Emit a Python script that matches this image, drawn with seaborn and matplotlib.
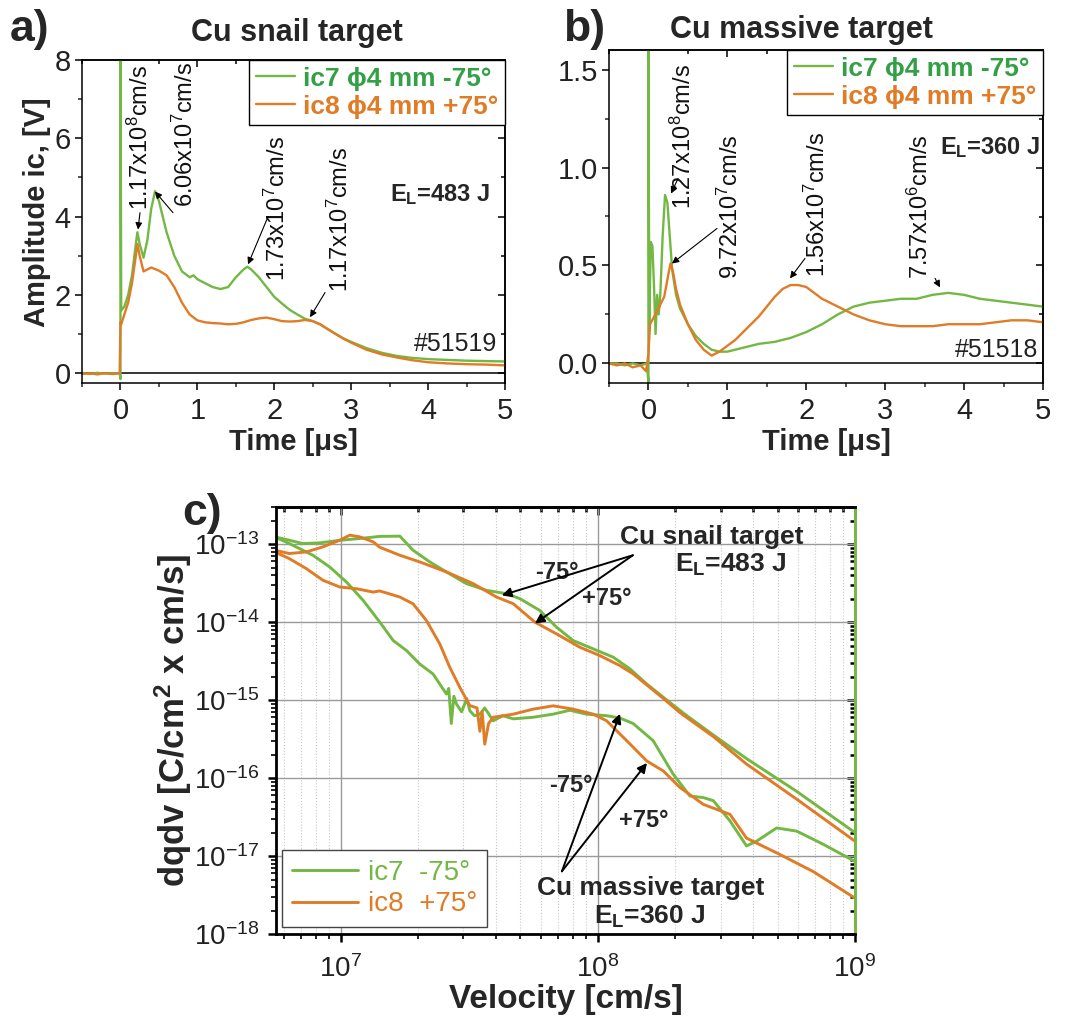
import numpy as np
import pandas as pd
import matplotlib
matplotlib.use("Agg")
import matplotlib.pyplot as plt
import seaborn as sns
from matplotlib.ticker import MultipleLocator, LogLocator, NullFormatter, FormatStrFormatter

# ---------------- data ----------------
# a) Cu snail target, shot #51519 : ion collector signals vs time [us]
a_t_ic7 = [-0.5, -0.4, -0.3, -0.2, -0.1, -0.01, 0.0, 0.0, 0.01, 0.05, 0.1, 0.15, 0.2, 0.22,
           0.25, 0.3, 0.35, 0.4, 0.45, 0.5, 0.55, 0.6, 0.7, 0.8, 0.9, 0.95, 1.0, 1.1, 1.2,
           1.3, 1.4, 1.5, 1.6, 1.65, 1.7, 1.8, 1.9, 2.0, 2.1, 2.2, 2.3, 2.4, 2.5, 2.6, 2.7,
           2.8, 2.9, 3.0, 3.2, 3.4, 3.6, 3.8, 4.0, 4.25, 4.5, 4.75, 5.0]
a_v_ic7 = [0.0, -0.02, 0.01, -0.01, 0.0, 0.0, -0.15, 9.0, 1.6, 1.7, 2.0, 2.5, 3.3, 3.6,
           3.3, 2.95, 3.4, 4.2, 4.65, 4.4, 4.0, 3.6, 3.0, 2.6, 2.45, 2.5, 2.4, 2.3, 2.2,
           2.15, 2.2, 2.45, 2.65, 2.72, 2.65, 2.45, 2.2, 1.95, 1.78, 1.62, 1.5, 1.39, 1.33,
           1.24, 1.12, 1.0, 0.89, 0.8, 0.64, 0.52, 0.44, 0.39, 0.36, 0.34, 0.32, 0.31, 0.3]
a_t_ic8 = [-0.5, -0.4, -0.3, -0.2, -0.1, -0.01, 0.0, 0.01, 0.05, 0.1, 0.15, 0.2, 0.22, 0.25,
           0.3, 0.35, 0.4, 0.5, 0.6, 0.7, 0.8, 0.9, 1.0, 1.1, 1.2, 1.3, 1.4, 1.5, 1.6, 1.7,
           1.8, 1.9, 2.0, 2.1, 2.2, 2.3, 2.4, 2.5, 2.6, 2.7, 2.8, 2.9, 3.0, 3.2, 3.4, 3.6,
           3.8, 4.0, 4.25, 4.5, 4.75, 5.0]
a_v_ic8 = [-0.02, 0.0, -0.03, 0.0, -0.02, 0.0, 1.3, 1.25, 1.5, 1.8, 2.3, 3.0, 3.3, 3.0,
           2.6, 2.65, 2.7, 2.62, 2.5, 2.2, 1.8, 1.5, 1.35, 1.3, 1.28, 1.27, 1.25, 1.26, 1.3,
           1.36, 1.4, 1.42, 1.38, 1.33, 1.32, 1.33, 1.36, 1.33, 1.25, 1.12, 1.0, 0.88, 0.78,
           0.6, 0.48, 0.4, 0.33, 0.28, 0.25, 0.23, 0.22, 0.2]

# b) Cu massive target, shot #51518
b_t_ic7 = [-0.5, -0.4, -0.3, -0.2, -0.1, -0.02, 0.0, 0.0, 0.01, 0.03, 0.05, 0.07, 0.09, 0.11,
           0.13, 0.15, 0.18, 0.21, 0.24, 0.27, 0.3, 0.35, 0.4, 0.5, 0.6, 0.7, 0.8, 0.9, 1.0,
           1.1, 1.2, 1.4, 1.6, 1.8, 2.0, 2.2, 2.4, 2.6, 2.8, 3.0, 3.2, 3.4, 3.6, 3.8, 4.0,
           4.2, 4.4, 4.6, 4.8, 5.0]
b_v_ic7 = [0.0, 0.0, -0.01, 0.0, -0.01, 0.0, -0.1, 1.7, 0.2, 0.62, 0.6, 0.4, 0.15, 0.35,
           0.25, 0.35, 0.65, 0.86, 0.82, 0.65, 0.48, 0.35, 0.28, 0.2, 0.14, 0.1, 0.07, 0.06,
           0.06, 0.07, 0.08, 0.1, 0.11, 0.13, 0.16, 0.2, 0.25, 0.29, 0.31, 0.32, 0.33, 0.33,
           0.35, 0.36, 0.35, 0.33, 0.32, 0.31, 0.3, 0.29]
b_t_ic8 = [-0.5, -0.4, -0.3, -0.2, -0.1, -0.03, 0.0, 0.02, 0.1, 0.15, 0.2, 0.25, 0.28, 0.31,
           0.35, 0.4, 0.5, 0.6, 0.7, 0.8, 0.9, 1.0, 1.1, 1.2, 1.3, 1.4, 1.5, 1.6, 1.7, 1.8,
           1.9, 2.0, 2.1, 2.2, 2.3, 2.4, 2.6, 2.8, 3.0, 3.2, 3.4, 3.6, 3.8, 4.0, 4.2, 4.4,
           4.6, 4.8, 5.0]
b_v_ic8 = [0.0, -0.01, 0.0, -0.02, -0.01, -0.04, 0.05, 0.2, 0.26, 0.3, 0.34, 0.45, 0.51, 0.47,
           0.38, 0.3, 0.2, 0.12, 0.07, 0.04, 0.06, 0.09, 0.12, 0.16, 0.2, 0.24, 0.29, 0.34,
           0.38, 0.4, 0.4, 0.39, 0.36, 0.33, 0.31, 0.29, 0.25, 0.22, 0.2, 0.19, 0.19, 0.19,
           0.2, 0.2, 0.2, 0.21, 0.22, 0.22, 0.21]

# c) charge density distributions dq/dv, given as log10(velocity [cm/s]) and log10(dqdv)
c_lv_snail_ic7 = [6.743, 6.80, 6.852, 6.918, 7.0, 7.074, 7.152, 7.23, 7.281, 7.346, 7.411,
                  7.489, 7.567, 7.645, 7.697, 7.774, 7.839, 7.904, 7.982, 8.06, 8.125, 8.19,
                  8.255, 8.338, 8.45, 8.578, 8.773, 9.0]
c_lq_snail_ic7 = [-12.906, -12.949, -12.992, -12.983, -12.949, -12.927, -12.9, -12.897,
                  -13.077, -13.227, -13.356, -13.506, -13.592, -13.635, -13.699, -13.85,
                  -14.064, -14.236, -14.343, -14.45, -14.6, -14.793, -14.965, -15.18, -15.45,
                  -15.75, -16.17, -16.70]
c_lv_snail_ic8 = [6.743, 6.80, 6.866, 6.931, 6.996, 7.035, 7.074, 7.126, 7.152, 7.23, 7.307,
                  7.411, 7.515, 7.606, 7.671, 7.755, 7.839, 7.93, 8.008, 8.086, 8.138, 8.255,
                  8.319, 8.45, 8.578, 8.773, 9.0]
c_lq_snail_ic8 = [-13.077, -13.12, -13.099, -13.034, -12.949, -12.884, -12.906, -12.97,
                  -13.04, -13.142, -13.227, -13.356, -13.506, -13.678, -13.764, -14.0, -14.15,
                  -14.322, -14.429, -14.558, -14.665, -14.98, -15.16, -15.47, -15.82, -16.27,
                  -16.81]
c_lv_massive_ic7 = [6.743, 6.80, 6.892, 6.957, 7.022, 7.087, 7.152, 7.204, 7.256, 7.307,
                    7.359, 7.411, 7.42, 7.43, 7.44, 7.45, 7.47, 7.49, 7.502, 7.52, 7.541,
                    7.56, 7.593, 7.63, 7.671, 7.748, 7.826, 7.891, 7.956, 8.034, 8.086,
                    8.137, 8.215, 8.293, 8.358, 8.41, 8.449, 8.514, 8.578, 8.617, 8.695,
                    8.773, 8.877, 9.0]
c_lq_massive_ic7 = [-12.906, -12.992, -13.142, -13.292, -13.485, -13.72, -14.0, -14.236,
                    -14.365, -14.536, -14.665, -14.922, -14.85, -15.3, -14.95, -15.05,
                    -15.15, -14.98, -15.137, -15.2, -15.18, -15.1, -15.266, -15.2, -15.24,
                    -15.22, -15.18, -15.13, -15.18, -15.2, -15.23, -15.3, -15.52, -15.95,
                    -16.23, -16.25, -16.29, -16.55, -16.87, -16.81, -16.64, -16.68, -16.85,
                    -17.07]
c_lv_massive_ic8 = [6.743, 6.80, 6.866, 6.931, 6.996, 7.061, 7.126, 7.152, 7.23, 7.281,
                    7.333, 7.385, 7.424, 7.463, 7.502, 7.53, 7.541, 7.55, 7.56, 7.575,
                    7.593, 7.671, 7.748, 7.826, 7.904, 7.982, 8.034, 8.112, 8.19, 8.255,
                    8.319, 8.41, 8.514, 8.578, 8.708, 8.838, 9.0]
c_lq_massive_ic8 = [-13.099, -13.185, -13.313, -13.463, -13.549, -13.571, -13.614, -13.6,
                    -13.678, -13.764, -13.978, -14.278, -14.579, -14.836, -15.07, -15.1,
                    -15.4, -15.15, -15.565, -15.3, -15.22, -15.18, -15.116, -15.073, -15.116,
                    -15.18, -15.265, -15.52, -15.78, -15.91, -16.12, -16.337, -16.466, -16.77,
                    -16.98, -17.2, -17.54]

legend_ab = ["ic7 \u03d54 mm -75\u00b0", "ic8 \u03d54 mm +75\u00b0"]
legend_c = ["ic7  -75\u00b0", "ic8  +75\u00b0"]

# ---------------- style ----------------
sns.set_theme(style="white")
plt.rcParams["font.family"] = ["Liberation Sans", "DejaVu Sans"]
plt.rcParams["mathtext.fontset"] = "custom"
plt.rcParams["mathtext.rm"] = "Liberation Sans"
plt.rcParams["mathtext.it"] = "Liberation Sans:italic"
plt.rcParams["mathtext.bf"] = "Liberation Sans:bold"
plt.rcParams["mathtext.default"] = "regular"
plt.rcParams["axes.unicode_minus"] = False

GREEN = "#72b843"
GREEN_TXT = "#33a047"
ORANGE = "#e07b26"
W, H = 1083, 1019

fig = plt.figure(figsize=(W / 100, H / 100), dpi=100)
fig.patch.set_facecolor("white")


def rect(l, t, r, b):
    return [l / W, 1 - b / H, (r - l) / W, (b - t) / H]


def ftext(px, py, s, **kw):
    fig.text(px / W, 1 - py / H, s, **kw)


def mirror_ticks(ax, xmaj, xmin, ymaj, ymin, lw, lmaj, lmin, right_color="black"):
    top = ax.secondary_xaxis("top")
    right = ax.secondary_yaxis("right")
    top.xaxis.set_major_locator(xmaj)
    top.xaxis.set_minor_locator(xmin)
    right.yaxis.set_major_locator(ymaj)
    right.yaxis.set_minor_locator(ymin)
    for sec, axis in ((top, top.xaxis), (right, right.yaxis)):
        axis.set_major_formatter(NullFormatter())
        axis.set_minor_formatter(NullFormatter())
        sec.tick_params(which="major", direction="in", length=lmaj, width=lw, color="black")
        sec.tick_params(which="minor", direction="in", length=lmin, width=lw, color="black")
        for sp in sec.spines.values():
            sp.set_linewidth(lw)
            sp.set_color("black")
    right.spines["right"].set_color(right_color)


def time_panel(ax, df, ylim, ymaj, ymin):
    sns.lineplot(data=df, x="t", y="v", hue="ch", palette=[GREEN, ORANGE], sort=False,
                 estimator=None, lw=1.7, ax=ax, legend=False)
    ax.axhline(0, color="black", lw=1.1, zorder=1)
    ax.set_xlim(-0.5, 5)
    ax.set_ylim(*ylim)
    ax.xaxis.set_major_locator(MultipleLocator(1))
    ax.xaxis.set_minor_locator(MultipleLocator(0.5))
    ax.yaxis.set_major_locator(MultipleLocator(ymaj))
    ax.yaxis.set_minor_locator(MultipleLocator(ymin))
    ax.tick_params(which="major", direction="out", length=5, width=1.1, labelsize=21,
                   color="black", labelcolor="#222222", pad=3, bottom=True, left=True)
    ax.tick_params(which="minor", direction="out", length=3, width=1.1, bottom=True, left=True)
    ax.tick_params(axis="x", pad=5)
    for sp in ax.spines.values():
        sp.set_linewidth(1.1)
        sp.set_color("black")
    mirror_ticks(ax, MultipleLocator(1), MultipleLocator(0.5), MultipleLocator(ymaj),
                 MultipleLocator(ymin), 1.1, 5, 3)
    ax.set_xlabel("Time [\u03bcs]", fontsize=21, fontweight="bold", labelpad=2)
    ax.set_ylabel("")
    handles = [plt.Line2D([], [], color=GREEN, lw=1.7), plt.Line2D([], [], color=ORANGE, lw=1.7)]
    leg = ax.legend(handles, legend_ab, loc="upper right", borderaxespad=0, fancybox=False,
                    framealpha=1, edgecolor="black", handlelength=1.5, handletextpad=0.3,
                    borderpad=0.25, labelspacing=0.15,
                    prop={"size": 19, "weight": "bold"})
    leg.get_frame().set_linewidth(1.0)
    for txt, col in zip(leg.get_texts(), [GREEN_TXT, ORANGE]):
        txt.set_color(col)


def vlabel(ax, x, y, s):
    ax.text(x, y, s, rotation=90, ha="center", va="center", fontsize=17, color="#111111")


def arrow(ax, tail, head, lw=0.8, ms=10):
    ax.annotate("", xy=head, xytext=tail,
                arrowprops=dict(arrowstyle="-|>", color="black", lw=lw, mutation_scale=ms,
                                shrinkA=0, shrinkB=0))


# ---------------- panel a ----------------
df_a = pd.concat([
    pd.DataFrame({"t": a_t_ic7, "v": a_v_ic7, "ch": "ic7"}),
    pd.DataFrame({"t": a_t_ic8, "v": a_v_ic8, "ch": "ic8"}),
])
ax_a = fig.add_axes(rect(82, 60, 505, 383))
time_panel(ax_a, df_a, (-0.25, 8), 2, 1)
vlabel(ax_a, 0.254, 6.01, r"1.17x10$^{8}$cm/s")
arrow(ax_a, (0.254, 4.10), (0.228, 3.67))
vlabel(ax_a, 0.839, 6.09, r"6.06x10$^{7}$cm/s")
arrow(ax_a, (0.683, 4.10), (0.449, 4.64))
vlabel(ax_a, 2.036, 4.20, r"1.73x10$^{7}$cm/s")
arrow(ax_a, (1.919, 4.0), (1.659, 2.78))
vlabel(ax_a, 2.855, 3.92, r"1.17x10$^{7}$cm/s")
arrow(ax_a, (2.66, 2.06), (2.465, 1.43))
ax_a.text(3.505, 4.56, r"E$_{\mathbf{L}}$=483 J", fontsize=17, fontweight="bold",
          ha="left", va="center")
ax_a.text(4.9, 0.74, "#51519", fontsize=18, ha="right", va="center", color="#222222")

# ---------------- panel b ----------------
df_b = pd.concat([
    pd.DataFrame({"t": b_t_ic7, "v": b_v_ic7, "ch": "ic7"}),
    pd.DataFrame({"t": b_t_ic8, "v": b_v_ic8, "ch": "ic8"}),
])
ax_b = fig.add_axes(rect(609, 50, 1043, 383))
time_panel(ax_b, df_b, (-0.1, 1.6), 0.5, 0.25)
ax_b.yaxis.set_major_formatter(FormatStrFormatter("%.1f"))
vlabel(ax_b, 0.438, 1.158, r"1.27x10$^{8}$cm/s")
arrow(ax_b, (0.375, 0.944), (0.286, 0.867))
vlabel(ax_b, 1.034, 0.80, r"9.72x10$^{7}$cm/s")
arrow(ax_b, (0.869, 0.689), (0.298, 0.51))
vlabel(ax_b, 2.136, 0.811, r"1.56x10$^{7}$cm/s")
arrow(ax_b, (1.984, 0.536), (1.794, 0.434))
vlabel(ax_b, 3.442, 0.80, r"7.57x10$^{6}$cm/s")
arrow(ax_b, (3.632, 0.434), (3.695, 0.388))
ax_b.text(4.96, 1.10, r"E$_{\mathbf{L}}$=360 J", fontsize=17, fontweight="bold",
          ha="right", va="center")
ax_b.text(4.94, 0.066, "#51518", fontsize=18, ha="right", va="center", color="#222222")

# ---------------- panel c ----------------
df_c = pd.concat([
    pd.DataFrame({"v": np.power(10.0, c_lv_snail_ic7), "q": np.power(10.0, c_lq_snail_ic7),
                  "ch": "ic7", "target": "snail"}),
    pd.DataFrame({"v": np.power(10.0, c_lv_massive_ic7), "q": np.power(10.0, c_lq_massive_ic7),
                  "ch": "ic7", "target": "massive"}),
    pd.DataFrame({"v": np.power(10.0, c_lv_snail_ic8), "q": np.power(10.0, c_lq_snail_ic8),
                  "ch": "ic8", "target": "snail"}),
    pd.DataFrame({"v": np.power(10.0, c_lv_massive_ic8), "q": np.power(10.0, c_lq_massive_ic8),
                  "ch": "ic8", "target": "massive"}),
])
ax_c = fig.add_axes(rect(276, 507, 855, 934))
ax_c.set_xscale("log")
ax_c.set_yscale("log")
sns.lineplot(data=df_c, x="v", y="q", hue="ch", units="target", estimator=None,
             palette=[GREEN, ORANGE], lw=2.1, ax=ax_c, legend=False)
ax_c.set_xlim(5.6e6, 1e9)
ax_c.set_ylim(1e-18, 3.0e-13)
ax_c.set_axisbelow(True)
ax_c.xaxis.set_major_locator(LogLocator(base=10, numticks=10))
ax_c.xaxis.set_minor_locator(LogLocator(base=10, subs=np.arange(2, 10), numticks=20))
ax_c.yaxis.set_major_locator(LogLocator(base=10, numticks=10))
ax_c.yaxis.set_minor_locator(LogLocator(base=10, subs=np.arange(2, 10), numticks=20))
ax_c.xaxis.set_minor_formatter(NullFormatter())
ax_c.yaxis.set_minor_formatter(NullFormatter())
ax_c.grid(which="major", color="#9a9a9a", lw=1.0)
ax_c.xaxis.grid(which="minor", color="#c8c8c8", lw=0.8, ls=":")
ax_c.tick_params(which="major", direction="out", length=6, width=1.8, labelsize=20,
                 labelcolor="#222222", color="black", bottom=True, left=True)
ax_c.tick_params(which="minor", direction="out", length=3.5, width=1.4, bottom=True, left=True)
ax_c.tick_params(axis="x", pad=9)
ax_c.tick_params(axis="y", pad=6)
for sp in ax_c.spines.values():
    sp.set_linewidth(2.0)
    sp.set_color("black")
ax_c.spines["right"].set_color(GREEN)
mirror_ticks(ax_c, LogLocator(base=10, numticks=10),
             LogLocator(base=10, subs=np.arange(2, 10), numticks=20),
             LogLocator(base=10, numticks=10),
             LogLocator(base=10, subs=np.arange(2, 10), numticks=20),
             1.8, 6, 3.5, right_color=GREEN)
ax_c.set_xlabel("Velocity [cm/s]", fontsize=24, fontweight="bold", labelpad=1)
ax_c.set_ylabel(r"dqdv [C/cm$^{\mathbf{2}}$ x cm/s]", fontsize=25, fontweight="bold",
                labelpad=0)

handles_c = [plt.Line2D([], [], color=GREEN, lw=2.1), plt.Line2D([], [], color=ORANGE, lw=2.1)]
leg_c = ax_c.legend(handles_c, legend_c, loc="lower left", bbox_to_anchor=(0.01, 0.016),
                    borderaxespad=0, fancybox=False, framealpha=1, edgecolor="#444444",
                    handlelength=2.4, handletextpad=0.35, borderpad=0.35, labelspacing=0.2,
                    prop={"size": 20})
leg_c.get_frame().set_linewidth(1.0)
for txt, col in zip(leg_c.get_texts(), [GREEN, ORANGE]):
    txt.set_color(col)


def lp(lx, ly):
    return (10.0 ** lx, 10.0 ** ly)


ax_c.text(*lp(8.444, -12.91), "Cu snail target", fontsize=19, fontweight="bold",
          ha="center", va="center")
ax_c.text(*lp(8.518, -13.27), r"E$_{\mathbf{L}}$=483 J", fontsize=19, fontweight="bold",
          ha="center", va="center")
ax_c.text(*lp(7.84, -13.36), "-75\u00b0", fontsize=17, fontweight="bold", ha="center", va="center")
ax_c.text(*lp(8.035, -13.695), "+75\u00b0", fontsize=17, fontweight="bold", ha="center", va="center")
arrow(ax_c, lp(8.136, -13.142), lp(7.626, -13.656), lw=1.4, ms=14)
arrow(ax_c, lp(8.136, -13.142), lp(7.755, -14.017), lw=1.4, ms=14)

ax_c.text(*lp(8.206, -17.414), "Cu massive target", fontsize=19, fontweight="bold",
          ha="center", va="center")
ax_c.text(*lp(8.202, -17.775), r"E$_{\mathbf{L}}$=360 J", fontsize=19, fontweight="bold",
          ha="center", va="center")
ax_c.text(*lp(7.895, -16.10), "-75\u00b0", fontsize=17, fontweight="bold", ha="center", va="center")
ax_c.text(*lp(8.179, -16.55), "+75\u00b0", fontsize=17, fontweight="bold", ha="center", va="center")
arrow(ax_c, lp(7.86, -17.196), lp(8.086, -15.175), lw=1.4, ms=14)
arrow(ax_c, lp(7.86, -17.196), lp(8.191, -15.806), lw=1.4, ms=14)

# ---------------- figure-level labels ----------------
ftext(37, 212, "Amplitude ic, [V]", fontsize=21, fontweight="bold", rotation=90,
      ha="center", va="center")
ftext(297, 33, "Cu snail target", fontsize=22, fontweight="bold", ha="center", va="center")
ftext(801, 30, "Cu massive target", fontsize=22, fontweight="bold", ha="center", va="center")
ftext(10, 30, "a)", fontsize=32, fontweight="bold", ha="left", va="center")
ftext(563, 30, "b)", fontsize=32, fontweight="bold", ha="left", va="center")
ftext(182, 514, "c)", fontsize=32, fontweight="bold", ha="left", va="center")

fig.savefig("out.png", dpi=100, facecolor="white")
